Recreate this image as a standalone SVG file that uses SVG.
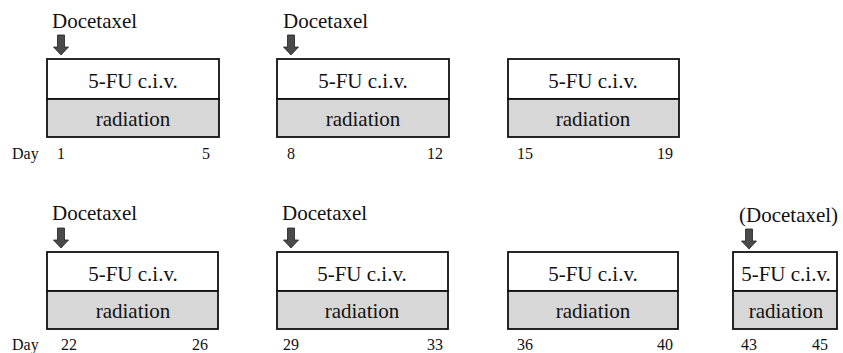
<svg xmlns="http://www.w3.org/2000/svg" width="843" height="353" viewBox="0 0 843 353">
  <defs>
    <style>
      .t { font-family: 'Liberation Serif', 'DejaVu Serif', serif; fill: #111; }
      .lbl { font-size: 21px; }
      .mid { text-anchor: middle; }
      .day { font-size: 16px; }
      .drug { fill: #fff; stroke: #111; stroke-width: 1.8; }
      .rad { fill: #d7d7d7; stroke: #111; stroke-width: 1.8; }
      .arrow { fill: #4a4a4a; stroke: #222; stroke-width: 0.8; }
    </style>
    <!-- down arrow marking a docetaxel dose, tip at (0,0) -->
    <path id="dose" class="arrow" d="M -3.5 -20 L 3.5 -20 L 3.5 -8 L 7.5 -8 L 0 0 L -7.5 -8 L -3.5 -8 Z"/>
  </defs>
  <rect width="843" height="353" fill="#fff"/>

  <g font-family="Liberation Serif, DejaVu Serif, serif">
  <!-- week 1 -->
  <g id="week1">
    <text class="t lbl" x="52" y="28">Docetaxel</text>
    <use href="#dose" x="61" y="55"/>
    <rect class="drug" x="47" y="59" width="172" height="40"/>
    <rect class="rad" x="47" y="99" width="172" height="38"/>
    <text class="t lbl mid" x="133" y="88">5-FU c.i.v.</text>
    <text class="t lbl mid" x="133" y="126">radiation</text>
    <text class="t day" x="12" y="159">Day</text>
    <text class="t day" x="57" y="159">1</text>
    <text class="t day" x="202" y="159">5</text>
  </g>

  <!-- week 2 -->
  <g id="week2">
    <text class="t lbl" x="283" y="28">Docetaxel</text>
    <use href="#dose" x="291" y="55"/>
    <rect class="drug" x="277" y="59" width="172" height="40"/>
    <rect class="rad" x="277" y="99" width="172" height="38"/>
    <text class="t lbl mid" x="363" y="88">5-FU c.i.v.</text>
    <text class="t lbl mid" x="363" y="126">radiation</text>
    <text class="t day" x="287" y="159">8</text>
    <text class="t day" x="427" y="159">12</text>
  </g>

  <!-- week 3 -->
  <g id="week3">
    <rect class="drug" x="508" y="59" width="171" height="40"/>
    <rect class="rad" x="508" y="99" width="171" height="38"/>
    <text class="t lbl mid" x="593" y="88">5-FU c.i.v.</text>
    <text class="t lbl mid" x="593" y="126">radiation</text>
    <text class="t day" x="517" y="159">15</text>
    <text class="t day" x="657" y="159">19</text>
  </g>

  <!-- week 4 -->
  <g id="week4">
    <text class="t lbl" x="52" y="220">Docetaxel</text>
    <use href="#dose" x="61" y="248"/>
    <rect class="drug" x="47" y="252" width="171" height="39"/>
    <rect class="rad" x="47" y="291" width="171" height="38"/>
    <text class="t lbl mid" x="133" y="281">5-FU c.i.v.</text>
    <text class="t lbl mid" x="133" y="318">radiation</text>
    <text class="t day" x="12" y="350">Day</text>
    <text class="t day" x="61" y="350">22</text>
    <text class="t day" x="192" y="350">26</text>
  </g>

  <!-- week 5 -->
  <g id="week5">
    <text class="t lbl" x="282" y="220">Docetaxel</text>
    <use href="#dose" x="291" y="248"/>
    <rect class="drug" x="277" y="252" width="171" height="39"/>
    <rect class="rad" x="277" y="291" width="171" height="38"/>
    <text class="t lbl mid" x="362" y="281">5-FU c.i.v.</text>
    <text class="t lbl mid" x="362" y="318">radiation</text>
    <text class="t day" x="283" y="350">29</text>
    <text class="t day" x="427" y="350">33</text>
  </g>

  <!-- week 6 -->
  <g id="week6">
    <rect class="drug" x="508" y="252" width="170" height="39"/>
    <rect class="rad" x="508" y="291" width="170" height="38"/>
    <text class="t lbl mid" x="593" y="281">5-FU c.i.v.</text>
    <text class="t lbl mid" x="593" y="318">radiation</text>
    <text class="t day" x="517" y="350">36</text>
    <text class="t day" x="657" y="350">40</text>
  </g>

  <!-- day 43-45 -->
  <g id="week7">
    <text class="t lbl" x="739" y="222">(Docetaxel)</text>
    <use href="#dose" x="749" y="249"/>
    <rect class="drug" x="733" y="252" width="104" height="39"/>
    <rect class="rad" x="733" y="291" width="104" height="38"/>
    <text class="t lbl mid" x="786" y="281">5-FU c.i.v.</text>
    <text class="t lbl mid" x="786" y="318">radiation</text>
    <text class="t day" x="741" y="350">43</text>
    <text class="t day" x="812" y="350">45</text>
  </g>
  </g>
</svg>
